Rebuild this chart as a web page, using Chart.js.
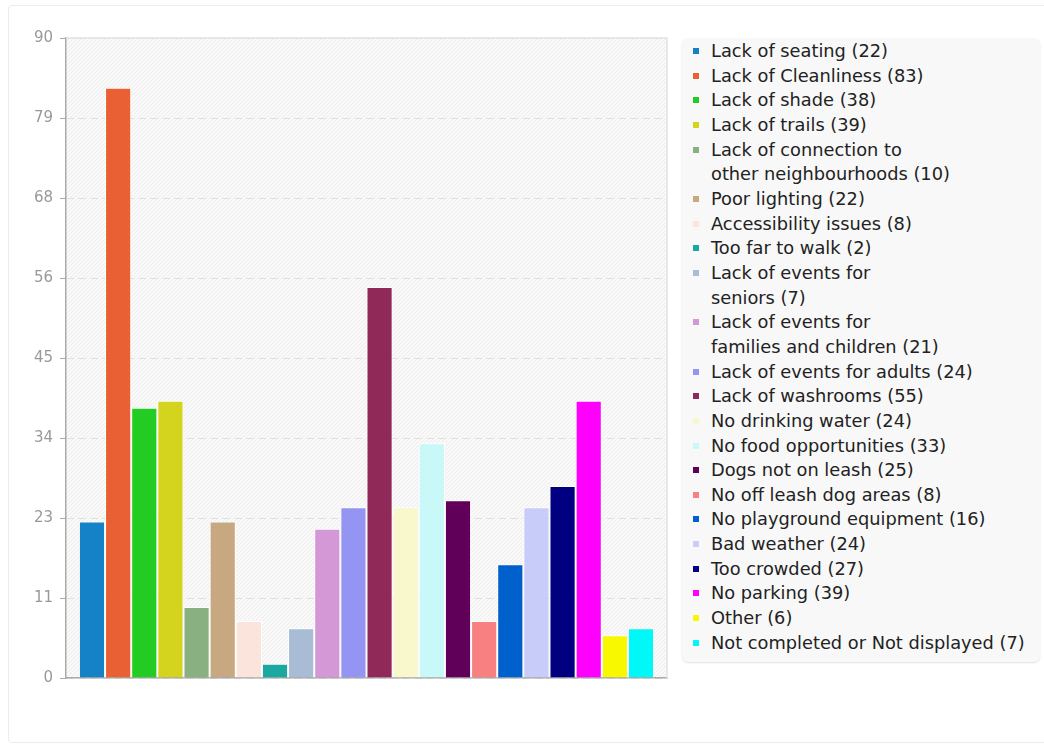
<!DOCTYPE html>
<html>
<head>
<meta charset="utf-8">
<script src="https://cdn.jsdelivr.net/npm/chart.js@4"></script>
<style>
  body { margin: 0; background: #fff; font-family: "DejaVu Sans", sans-serif; }
  #card { position: absolute; left: 8px; top: 5px; width: 1040px; height: 736px; border: 1px solid #ececec; border-radius: 4px; }
  #wrap { position: absolute; left: 0; top: 0; width: 672px; height: 694px; }
  #legend { position: absolute; left: 682px; top: 38px; width: 358px; height: 624px; box-sizing: border-box;
    background: #f8f8f8; border-radius: 6px; box-shadow: 0 1px 2px rgba(0,0,0,0.12);
    padding: 1px 0 0 11px; font-size: 17.8px; color: #222; line-height: 24.65px; }
  #legend div { position: relative; padding-left: 18px; white-space: pre-line; }
  #legend span { position: absolute; left: 0; top: 9px; width: 6px; height: 6px; }
</style>
</head>
<body>
<div id="card"></div>
<div id="wrap"><canvas id="chart"></canvas></div>
<div id="legend"></div>
<script>
const categories = [
  "Lack of seating", "Lack of Cleanliness", "Lack of shade", "Lack of trails",
  "Lack of connection to\nother neighbourhoods", "Poor lighting", "Accessibility issues",
  "Too far to walk", "Lack of events for\nseniors", "Lack of events for\nfamilies and children",
  "Lack of events for adults", "Lack of washrooms", "No drinking water", "No food opportunities",
  "Dogs not on leash", "No off leash dog areas", "No playground equipment", "Bad weather",
  "Too crowded", "No parking", "Other", "Not completed or Not displayed"
]
const counts = [22, 83, 38, 39, 10, 22, 8, 2, 7, 21, 24, 55, 24, 33, 25, 8, 16, 24, 27, 39, 6, 7]
const colors = [
  "#1582c8", "#e86033", "#22cc22", "#d4d41e", "#88b080", "#c8a880", "#fbe4dc", "#1aa8a0",
  "#a8bcd6", "#d498d6", "#9494f2", "#902858", "#f8f8cc", "#c8f8f8", "#600058", "#f88080",
  "#0060cc", "#c8ccf8", "#000080", "#ff00ff", "#f8f800", "#00f8f8"
]
const yTicks = [0, 11.25, 22.5, 33.75, 45, 56.25, 67.5, 78.75, 90]

// hatched plot background + light top/right frame
const plotBackground = {
  id: 'plotBackground',
  beforeDraw(chart) {
    const { ctx, chartArea: a } = chart
    ctx.save()
    ctx.fillStyle = '#f9f9f9'
    ctx.fillRect(a.left, a.top, a.width, a.height)
    ctx.beginPath()
    ctx.rect(a.left, a.top, a.width, a.height)
    ctx.clip()
    ctx.strokeStyle = '#ededed'
    ctx.lineWidth = 1
    for (let x = a.left - a.height; x < a.right; x += 4) {
      ctx.beginPath()
      ctx.moveTo(x, a.bottom)
      ctx.lineTo(x + a.height, a.top)
      ctx.stroke()
    }
    ctx.restore()
  },
  afterDraw(chart) {
    const { ctx, chartArea: a } = chart
    ctx.save()
    ctx.strokeStyle = '#e2e2e2'
    ctx.lineWidth = 1.5
    ctx.beginPath()
    ctx.moveTo(a.left, a.top)
    ctx.lineTo(a.right, a.top)
    ctx.lineTo(a.right, a.bottom)
    ctx.stroke()
    ctx.restore()
  }
}

const datasets = categories.map((name, i) => ({
  label: name.replace('\n', ' ') + ' (' + counts[i] + ')',
  data: [counts[i]],
  backgroundColor: colors[i],
  borderColor: '#ffffff',
  borderWidth: 1,
  categoryPercentage: 0.957,
  barPercentage: 1
}))

const chart = new Chart(document.getElementById('chart'), {
  type: 'bar',
  data: { labels: [''], datasets: datasets },
  plugins: [plotBackground],
  options: {
    responsive: true,
    maintainAspectRatio: false,
    animation: false,
    layout: { padding: { top: 38, right: 5, bottom: 0, left: 0 } },
    plugins: { legend: { display: false }, tooltip: { enabled: false } },
    scales: {
      x: {
        ticks: { display: false },
        grid: { display: false },
        border: { color: '#aaaaaa', width: 1.5 },
        afterFit(scale) { scale.height = 9 }
      },
      y: {
        min: 0,
        max: 90,
        afterBuildTicks(scale) { scale.ticks = yTicks.map(v => ({ value: v })) },
        afterFit(scale) { scale.width = 66 },
        ticks: {
          padding: 7,
          color: '#999999',
          font: { family: 'DejaVu Sans', size: 15 },
          callback: v => Math.round(v)
        },
        grid: {
          color: '#e0e0e0',
          tickLength: 6,
          tickColor: '#aaaaaa',
          tickBorderDash: []
        },
        border: { color: '#aaaaaa', width: 1.5, dash: [8, 4] }
      }
    }
  }
})

const legend = document.getElementById('legend')
categories.forEach((name, i) => {
  const row = document.createElement('div')
  const mark = document.createElement('span')
  mark.style.background = colors[i]
  row.appendChild(mark)
  row.appendChild(document.createTextNode(name + ' (' + counts[i] + ')'))
  legend.appendChild(row)
})
</script>
</body>
</html>
